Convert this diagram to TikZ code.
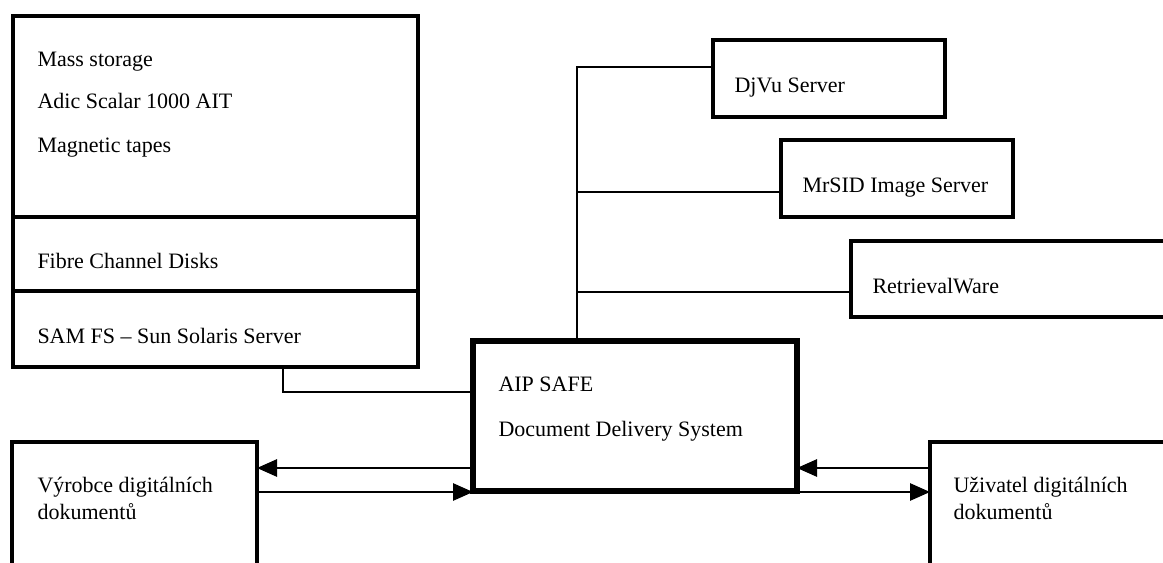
\documentclass[tikz,border=0pt]{standalone}
\usepackage{fontspec}
\setmainfont{Liberation Serif}
\usetikzlibrary{arrows.meta}

\tikzset{every picture/.style={line width=0.75pt}}
\tikzset{
  box/.style={draw, rectangle, line width=2.4pt, inner sep=0pt, outer sep=0pt, anchor=north west},
  mainbox/.style={box, line width=4pt},
  txt/.style={anchor=base west, inner sep=0pt, font=\fontsize{16.5}{19}\selectfont},
  link/.style={line width=1.3pt},
  flow/.style={line width=1.3pt, -{Triangle[length=15pt,width=13pt]}}
}

\begin{document}
\begin{tikzpicture}[x=0.75pt,y=0.75pt,yscale=-1,xscale=1]
        \useasboundingbox (0,0) rectangle (1163,563);
        \clip (0,0) rectangle (1163,563);

        %Shape: Rectangle [storage]
        \node[box, minimum width=303.75pt, minimum height=263.25pt] (store) at (13,16) {};
        \draw[line width=2.4pt] (store.west |- 0,217) -- (store.east |- 0,217) ;
        \draw[line width=2.4pt] (store.west |- 0,291) -- (store.east |- 0,291) ;
        \node[txt] (t-mass) at (37,67) {Mass storage};
        \node[txt] (t-adic) at (37,109) {Adic Scalar 1000 AIT};
        \node[txt] (t-tape) at (37,153) {Magnetic tapes};
        \node[txt] (t-fibre) at (37,268) {Fibre Channel Disks};
        \node[txt] (t-sam) at (37,343) {SAM FS -- Sun Solaris Server};

        %Shape: Rectangle [servers]
        \node[box, minimum width=174pt, minimum height=57.75pt] (djvu) at (713,40) {};
        \node[txt] (t-djvu) at (734,93) {DjVu Server};
        \node[box, minimum width=174pt, minimum height=57.75pt] (mrsid) at (781,140) {};
        \node[txt] (t-mrsid) at (802,193) {MrSID Image Server};
        \node[box, minimum width=255pt, minimum height=57pt] (retr) at (851,241) {};
        \node[txt] (t-retr) at (872,293) {RetrievalWare};

        %Shape: Rectangle [AIP]
        \node[mainbox, minimum width=243pt, minimum height=112.5pt] (aip) at (473,341) {};
        \node[txt] (t-aip) at (498,391) {AIP SAFE};
        \node[txt] (t-dds) at (498,436) {Document Delivery System};

        %Shape: Rectangle [producer / user]
        \node[box, minimum width=183.75pt, minimum height=120pt] (vyr) at (12,442) {};
        \node[txt] (t-vyr1) at (37,492) {Výrobce digitálních};
        \node[txt] (t-vyr2) at (37,519) {dokumentů};
        \node[box, minimum width=195pt, minimum height=120pt] (uzi) at (930,442) {};
        \node[txt] (t-uzi1) at (953,492) {Uživatel digitálních};
        \node[txt] (t-uzi2) at (953,519) {dokumentů};

        %Straight Lines [bus]
        \coordinate (sb) at (283,392);
        \coordinate (b1) at (577,67);
        \coordinate (b2) at (577,192);
        \coordinate (b3) at (577,292);
        \coordinate (up) at (0,468);
        \coordinate (dn) at (0,492);
        \draw[link] (store.south -| sb) -- (sb) -- (aip.west |- sb) ;
        \draw[link] (aip.north -| b1) -- (b1) -- (djvu.west |- b1) ;
        \draw[link] (b2) -- (mrsid.west |- b2) ;
        \draw[link] (b3) -- (retr.west |- b3) ;

        %Straight Lines [arrows]
        \draw[flow] (aip.west |- up) -- (vyr.east |- up) ;
        \draw[flow] (vyr.east |- dn) -- (aip.west |- dn) ;
        \draw[flow] (uzi.west |- up) -- (aip.east |- up) ;
        \draw[flow] (aip.east |- dn) -- (uzi.west |- dn) ;

    \end{tikzpicture}
\end{document}
